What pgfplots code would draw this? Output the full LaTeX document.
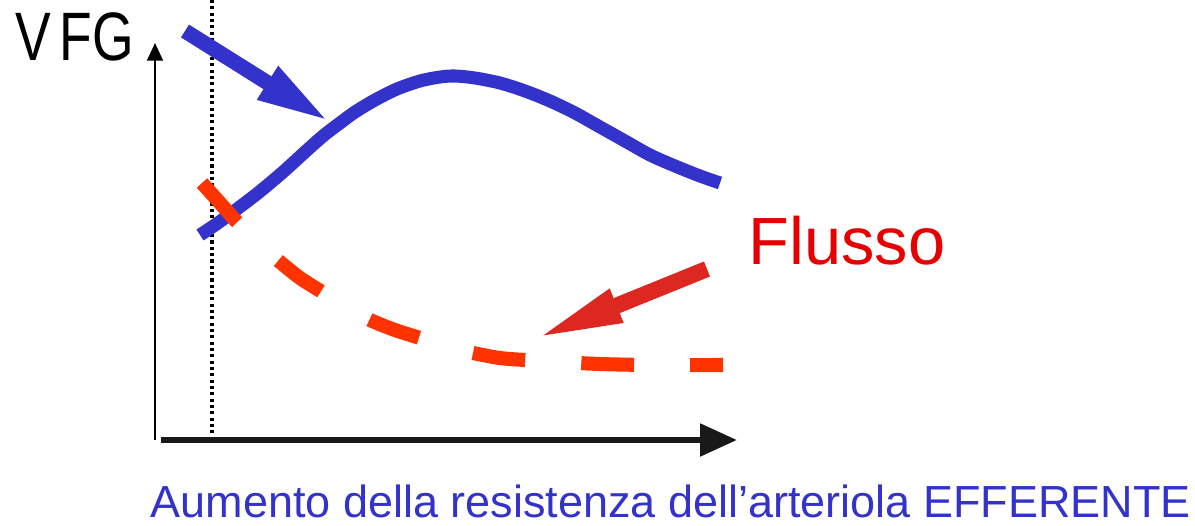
\documentclass[border=0pt]{standalone}
\usepackage{pgfplots}
\pgfplotsset{compat=1.18}
\usepackage{fontspec}
\setmainfont{Liberation Sans}
\usetikzlibrary{arrows.meta}
\definecolor{vfgblue}{RGB}{51,51,204}
\definecolor{flowred}{RGB}{255,51,0}
\definecolor{arrred}{RGB}{220,40,32}
\definecolor{txtred}{RGB}{230,0,0}
\begin{document}
\begin{tikzpicture}
\begin{axis}[
    width=11.95cm, height=5.25cm, scale only axis,
    xmin=0, xmax=1195, ymin=0, ymax=525, y dir=reverse,
    hide axis, clip=false,
]
% keep the page exactly the axis box
\path[use as bounding box] (axis cs:0,0) rectangle (axis cs:1195,525);
% reference lines and axes
\addplot[black, line width=0.9pt, dash pattern=on 0.9pt off 0.9pt] coordinates {(212,0) (212,438)};
\addplot[black, line width=0.6pt, -{Triangle[length=5pt,width=4.5pt]}] coordinates {(155,440) (155,43)};
\addplot[black!90, line width=1.8pt, -{Triangle[length=10.5pt,width=9pt]}] coordinates {(161,440) (737,440)};
% VFG curve
\addplot[vfgblue, line width=3.7pt, smooth] coordinates {
(200,235) (215,225) (233,212) (258,193) (283,172) (305,152) (323,136)
(340,123) (355,112) (375,100) (397,89) (420,81) (440,77) (455,76)
(475,78) (500,83) (525,91) (550,101) (575,113) (600,127) (625,141)
(650,155) (675,166) (700,176) (720,183)};
% flow curve
\addplot[flowred, line width=4pt, smooth, dash pattern=on 15pt off 16pt] coordinates {
(202,183) (220,203) (237,222) (260,245) (280,262) (300,278) (322,292)
(345,307) (370,320) (395,330) (420,338) (447,347) (473,353) (500,358)
(525,360) (560,362) (600,364) (650,365) (723,365)};
% pointer arrows
\addplot[vfgblue, line width=4.3pt, -{Triangle[length=21pt,width=10pt]}] coordinates {(185,31) (330,122)};
\addplot[arrred, line width=4.6pt, -{Triangle[length=26pt,width=9pt]}] coordinates {(707,269) (532,340)};
% labels
\node[anchor=base west, inner sep=0pt] at (axis cs:15,61)
  {\scalebox{0.78}[1]{\fontsize{19.5}{22}\selectfont V\kern3pt FG}};
\node[anchor=base west, inner sep=0pt, text=txtred] at (axis cs:748,264)
  {\fontsize{19}{22}\selectfont Flusso};
\node[anchor=base west, inner sep=0pt, text=vfgblue] at (axis cs:150,517)
  {\fontsize{12.8}{15}\selectfont Aumento della resistenza dell’arteriola EFFERENTE};
\end{axis}
\end{tikzpicture}
\end{document}
